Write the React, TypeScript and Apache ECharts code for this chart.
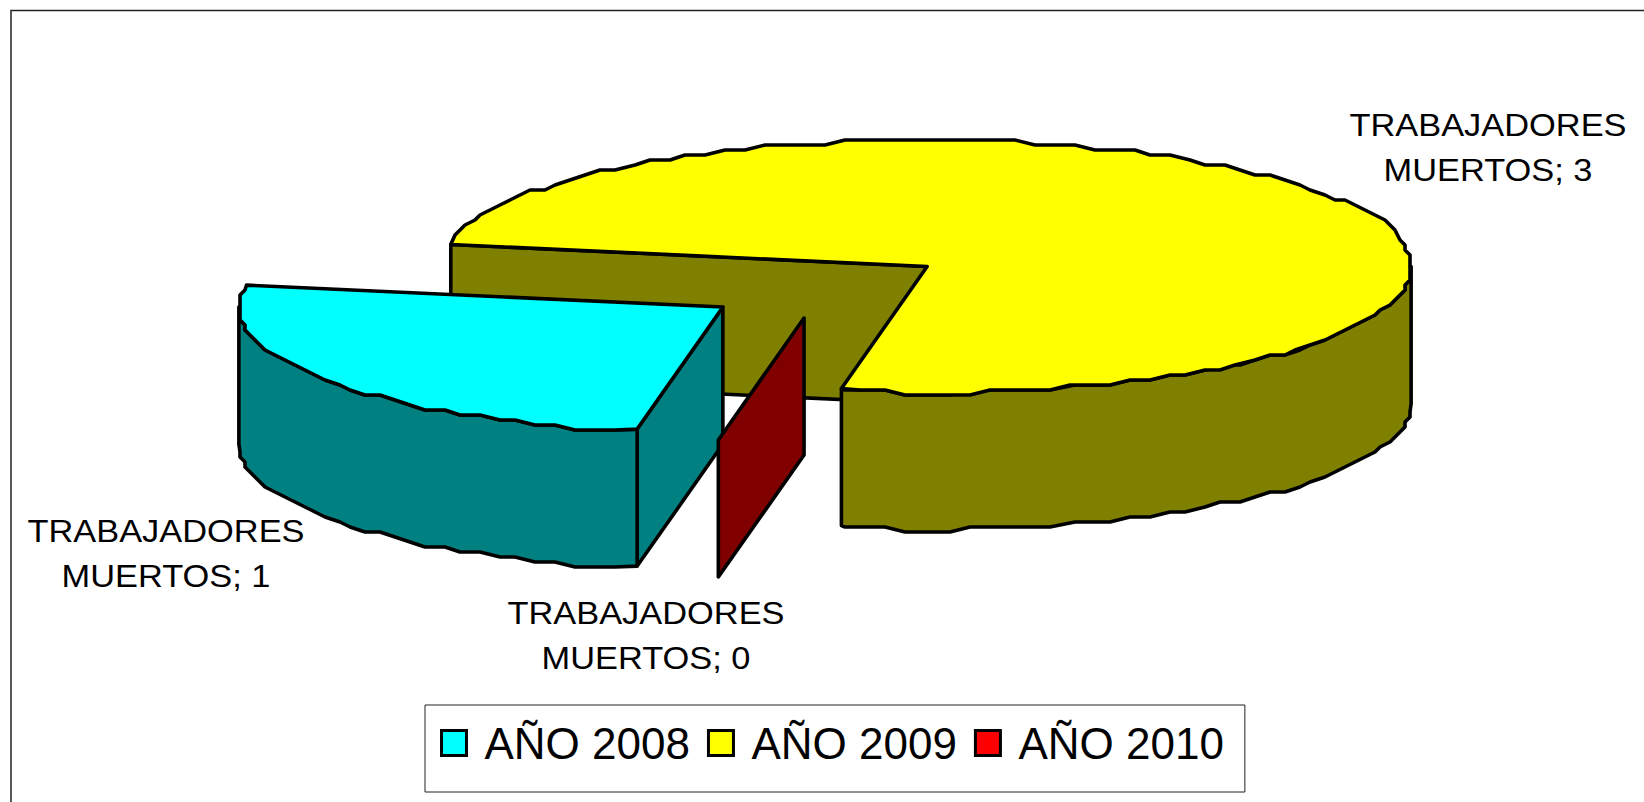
import React, { useEffect, useRef } from "react";
import * as echarts from "echarts";

const categories = ["AÑO 2008", "AÑO 2009", "AÑO 2010"];
const values = [1, 3, 0];
const seriesLabel = "TRABAJADORES\nMUERTOS";
const topColors = ["#00FFFF", "#FFFF00", "#FF0000"];
const sideColors = ["#008080", "#808000", "#800000"];
const drawOrder = [2, 1, 3];
const labelCenters = [
  [166, 553],
  [1488, 147],
  [646, 635],
];
const sliceNudges = [
  [2.5, 3.5],
  [-1.5, 0],
  [2, 1],
];

const FONT = '"Liberation Sans", Arial, sans-serif';
const CX = 824.5;
const CY = 285;
const RX = 484;
const RY = 124;
const DEPTH = 137;
const EXPLODE = 0.262;
const ROTATION = 190.2;
const SNAP = 5;

const rad = (d: number) => (d * Math.PI) / 180;
const total = values.reduce((a, b) => a + b, 0);

function sliceStart(index: number) {
  let a = ROTATION;
  for (let i = 0; i < index; i++) a += (values[i] / total) * 360;
  return a;
}

function renderSlice(index: number) {
  return (_params: any, api: any) => {
    const v = api.value(0);
    const start = sliceStart(index);
    const end = start + (v / total) * 360;
    const mid = (start + end) / 2;
    const cx = CX + EXPLODE * RX * Math.sin(rad(mid)) + sliceNudges[index][0];
    const cy = CY - EXPLODE * RY * Math.cos(rad(mid)) + sliceNudges[index][1];
    const pt = (t: number): [number, number] => [
      cx + RX * Math.sin(rad(t)),
      cy - RY * Math.cos(rad(t)),
    ];
    const arc = (a: number, b: number) => {
      const out: [number, number][] = [pt(a)];
      for (let t = a + 2.5; t < b; t += 2.5) {
        const p = pt(t);
        const q: [number, number] = [
          Math.round(p[0] / SNAP) * SNAP,
          (p[1] < cy ? Math.floor(p[1] / SNAP) : Math.ceil(p[1] / SNAP)) * SNAP,
        ];
        const last = out[out.length - 1];
        if (q[0] !== last[0] || q[1] !== last[1]) out.push(q);
      }
      out.push(pt(b));
      return out;
    };
    const down = (p: [number, number]): [number, number] => [p[0], p[1] + DEPTH];
    const stroke = { stroke: "#000", lineWidth: 3.6, lineJoin: "round" };
    const side = { fill: sideColors[index], ...stroke };
    const wall = (p: [number, number]) => ({
      type: "polygon",
      shape: { points: [[cx, cy], p, down(p), [cx, cy + DEPTH]] },
      style: side,
    });
    // The cut face at a slice's starting angle is the one that looks towards the viewer
    const children: any[] = [wall(pt(start))];
    if (v > 0) {
      // Outer rim: only the part of the arc on the front half
      for (const k of [0, 360]) {
        const a = Math.max(start, 90 + k);
        const b = Math.min(end, 270 + k);
        if (b > a) {
          const top = arc(a, b);
          children.push({
            type: "polygon",
            shape: { points: [...top, ...top.slice().reverse().map(down)] },
            style: side,
          });
        }
      }
      // Top face
      children.push({
        type: "polygon",
        shape: { points: [[cx, cy], ...arc(start, end)] },
        style: { fill: topColors[index], ...stroke },
      });
    }
    children.push({
      type: "text",
      x: labelCenters[index][0],
      y: labelCenters[index][1],
      scaleX: 1.075,
      style: {
        text: `${seriesLabel}; ${v}`,
        fill: "#000",
        fontSize: 32,
        fontFamily: FONT,
        lineHeight: 45,
        align: "center",
        verticalAlign: "middle",
      },
    });
    return { type: "group", children };
  };
}

export default function App() {
  const ref = useRef<HTMLDivElement>(null);
  useEffect(() => {
    document.body.style.margin = "0";
    const chart = echarts.init(ref.current!, undefined, { renderer: "svg" });
    chart.setOption({
      animation: false,
      backgroundColor: "#fff",
      legend: {
        left: 425,
        top: 705,
        orient: "horizontal",
        data: categories,
        icon: "rect",
        itemWidth: 25,
        itemHeight: 25,
        itemGap: 17,
        padding: [16, 21, 27, 15],
        borderColor: "#222",
        borderWidth: 1,
        backgroundColor: "#fff",
        selectedMode: false,
        itemStyle: { borderColor: "#000", borderWidth: 3 },
        textStyle: { fontSize: 44, fontFamily: FONT, color: "#000", padding: [0, 0, 0, 13] },
      },
      graphic: [
        {
          type: "polyline",
          silent: true,
          shape: { points: [[11, 802], [11, 10.5], [1644, 10.5]] },
          style: { fill: "none", stroke: "#222", lineWidth: 1.5 },
        },
      ],
      series: categories.map((name, i) => ({
        type: "custom",
        name,
        coordinateSystem: "none",
        z: drawOrder[i],
        silent: true,
        clip: false,
        itemStyle: { color: topColors[i] },
        data: [[values[i]]],
        renderItem: renderSlice(i),
      })),
    });
    return () => chart.dispose();
  }, []);
  return <div ref={ref} style={{ position: "fixed", left: 0, top: 0, width: 1644, height: 802 }} />;
}
